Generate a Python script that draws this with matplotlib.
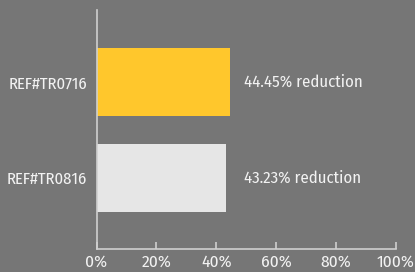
import matplotlib
matplotlib.use("Agg")
import matplotlib.pyplot as plt

# Data
categories = ["REF#TR0816", "REF#TR0716"]
values = [43.23, 44.45]
bar_colors = ["#e6e6e6", "#ffc72c"]
value_labels = ["43.23% reduction", "44.45% reduction"]
xticks = [0, 20, 40, 60, 80, 100]

bg = "#767676"
fg = "#f2f2f2"
axis_col = "#d0d0d0"

plt.rcParams["font.family"] = ["Fira Sans Condensed", "DejaVu Sans"]

fig = plt.figure(figsize=(4.15, 2.72), dpi=100, facecolor=bg)
ax = fig.add_axes([96.5 / 415, 1 - 249 / 272, (396 - 96.5) / 415, (249 - 10) / 272])
ax.set_facecolor(bg)

ypos = list(range(len(categories)))
ax.barh(ypos, values, height=0.71, color=bar_colors)

for y, lab in zip(ypos, value_labels):
    ax.text(49.2, y, lab, va="center", ha="left", color=fg, fontsize=12)

ax.set_xlim(0, 100)
ax.set_ylim(-0.74, 1.75)
ax.set_xticks(xticks)
ax.set_xticklabels([f"{t}%" for t in xticks], color=fg, fontsize=12.5)
ax.set_yticks(ypos)
ax.set_yticklabels(categories, color=fg, fontsize=12)

for side in ["top", "right"]:
    ax.spines[side].set_visible(False)
for side in ["left", "bottom"]:
    ax.spines[side].set_color(axis_col)
    ax.spines[side].set_linewidth(1.2)

ax.tick_params(axis="x", direction="in", length=5, color=axis_col, width=1.2, pad=4)
ax.tick_params(axis="y", length=0, pad=7)

fig.savefig("out.png", dpi=100, facecolor=bg)
